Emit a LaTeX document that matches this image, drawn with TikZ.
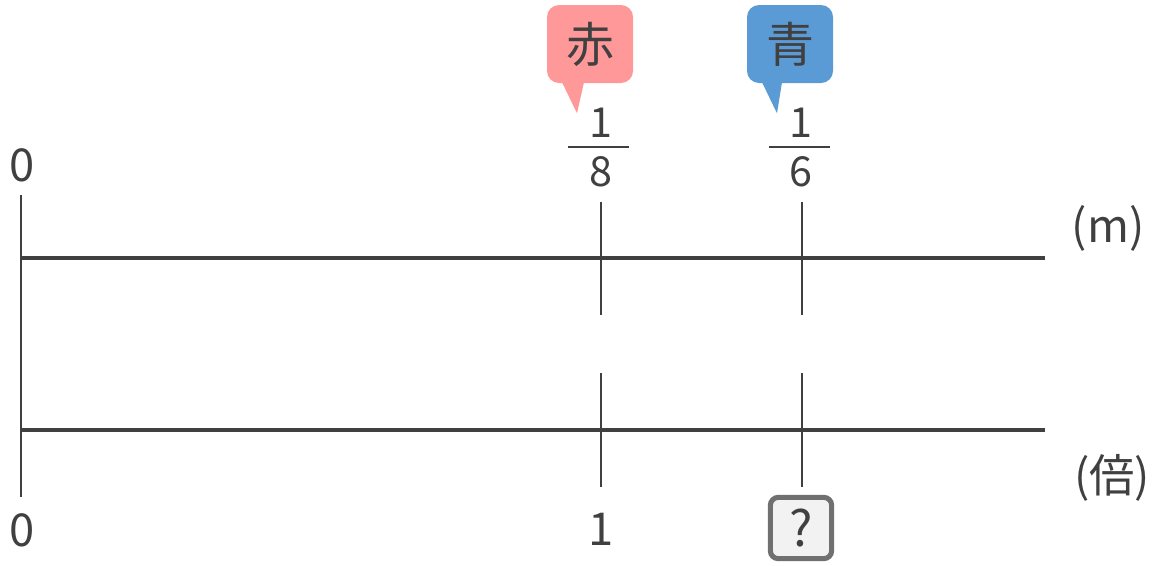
\documentclass[tikz,border=0pt]{standalone}
\usepackage{fontspec}
\setmainfont{Noto Sans CJK JP}
\usetikzlibrary{positioning,calc}
\definecolor{ink}{HTML}{404040}
\definecolor{akacol}{HTML}{FF9999}
\definecolor{aocol}{HTML}{5B9BD5}
\definecolor{boxedge}{HTML}{707070}
\tikzset{
x=0.75pt, y=-0.75pt,
axis/.style={ink, line width=2.6pt},
tick/.style={ink, line width=1.5pt},
lbl/.style={ink, inner sep=0pt, font=\fontsize{34}{40}\selectfont},
frac/.style={ink, inner sep=0pt, font=\fontsize{31}{36}\selectfont},
bubble/.style={text=ink, inner sep=0pt, rounded corners=9pt,
  minimum width=64.5pt, minimum height=58.5pt, font=\fontsize{36}{42}\selectfont},
qbox/.style={draw=boxedge, line width=3.8pt, fill=gray!10, rounded corners=6pt,
  minimum size=46pt, inner sep=0pt, text=ink, font=\fontsize{37}{42}\selectfont},
}

\begin{document}
\begin{tikzpicture}
    \useasboundingbox (0,0) rectangle (1160,565);

    % axes
    \coordinate (m0) at (21,258);
    \coordinate (mend) at (1045,258);
    \coordinate (b0) at (21,430);
    \coordinate (bend) at (1045,430);
    \draw[axis] (m0) -- (mend);
    \draw[axis] (b0) -- (bend);
    \draw[tick] (21,195) -- (21,497);

    % ticks
    \foreach \x/\name in {601/aka, 802/ao} {
        \coordinate (\name top) at (\x,202);
        \coordinate (\name mid) at (\x,315);
        \coordinate (\name low) at (\x,373);
        \coordinate (\name bot) at (\x,487);
        \draw[tick] (\name top) -- (\name mid);
        \draw[tick] (\name low) -- (\name bot);
    }

    % labels
    \node[lbl] (zeroM) at (22,165) {0};
    \node[lbl] (zeroB) at (22,530) {0};
    \node[lbl] (oneB) at (601,529) {1};
    \node[lbl] (unitM) at (1108,228) {(m)};
    \node[lbl] (unitB) at (1112,478) {(倍)};
    \node[qbox] (ques) at (801,528) {?};

    % fractions
    \node[frac] (akaNum) at (601,123) {1};
    \node[frac] (akaDen) at (601,172) {8};
    \draw[tick] (568,147) -- (629,147);
    \node[frac] (aoNum) at (801,123) {1};
    \node[frac] (aoDen) at (801,172) {6};
    \draw[tick] (769,147) -- (830,147);

    % speech bubbles
    \node[bubble, fill=akacol] (akaTag) at (590,44) {赤};
    \fill[akacol] ($(akaTag.south)+(-28,-1)$) -- ($(akaTag.south)+(-13,30)$) -- ($(akaTag.south)+(-6,-1)$) -- cycle;
    \node[bubble, fill=aocol] (aoTag) at (790,44) {青};
    \fill[aocol] ($(aoTag.south)+(-28,-1)$) -- ($(aoTag.south)+(-13,30)$) -- ($(aoTag.south)+(-8,-1)$) -- cycle;
\end{tikzpicture}
\end{document}
